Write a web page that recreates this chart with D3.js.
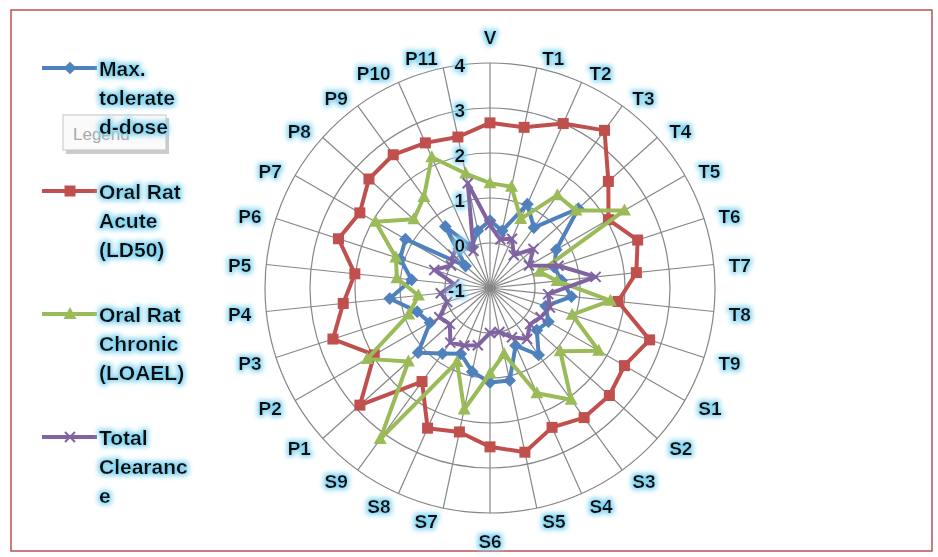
<!DOCTYPE html>
<html>
<head>
<meta charset="utf-8">
<script src="https://cdn.jsdelivr.net/npm/d3@7"></script>
<style>
	body { margin: 0; background: #fff; }
	svg { display: block; font-family: "Liberation Sans", Arial, sans-serif; font-weight: bold; }
</style>
</head>
<body>
<svg id="chart" width="938" height="557"></svg>
<script>
// Categories around the radar, clockwise from the top
const categories = ["V", "T1", "T2", "T3", "T4", "T5", "T6", "T7", "T8", "T9",
	"S1", "S2", "S3", "S4", "S5", "S6", "S7", "S8", "S9",
	"P1", "P2", "P3", "P4", "P5", "P6", "P7", "P8", "P9", "P10", "P11"];

const maxToleratedDose = [0.5, 0.3, 1.04, 0.66, 1.64, 0.7, 0.5, 0.6, 0.82, 0.3,
	0.5, 0.4, 0.84, 0.4, 1.1, 1.1, 0.9, 0.6, 0.8,
	1.15, 0.54, 0.7, 1.24, 0.75, 1.1, 1.17, -0.27, 0.69, 0.0, 0.3];
const oralRatAcute = [2.67, 2.65, 3.0, 3.33, 2.54, 2.04, 2.45, 2.27, 1.86, 2.73,
	2.45, 2.57, 2.56, 2.39, 2.73, 2.53, 2.27, 2.41, 1.57,
	2.89, 1.97, 2.67, 2.28, 2.02, 2.54, 2.34, 2.62, 2.66, 2.53, 2.43];
const oralRatChronic = [1.33, 1.3, 0.68, 1.55, 1.57, 2.45, 0.16, 0.5, 1.69, 0.92,
	1.79, 1.1, 2.07, 1.56, 0.5, 0.9, 1.76, 0.8, 3.15,
	1.44, 2.15, 0.9, 0.6, 1.08, 1.2, 1.94, 1.28, 1.5, 2.18, 1.6];
const totalClearance = [0.4, 0.1, 0.2, -0.1, 0.3, 0.0, 0.6, 1.36, 0.3, 0.4,
	0.3, 0.2, 0.4, 0.2, 0.0, 0.0, 0.3, 0.4, 0.5,
	0.2, 0.3, 0.0, 0.1, -0.2, 0.3, 0.0, 0.1, 0.2, -0.1, 1.38];

const radialTicks = [-1, 0, 1, 2, 3, 4];

const seriesNames = ["Max. tolerated dose", "Oral Rat Acute (LD50)", "Oral Rat Chronic (LOAEL)", "Total Clearance"];
// legend text as it wraps in the picture
const legendLines = [
	["Max.", "tolerate", "d-dose"],
	["Oral Rat", "Acute", "(LD50)"],
	["Oral Rat", "Chronic", "(LOAEL)"],
	["Total", "Clearanc", "e"],
];

const series = [
	{ name: seriesNames[0], values: maxToleratedDose, color: "#4f81bd", marker: "diamond" },
	{ name: seriesNames[1], values: oralRatAcute, color: "#c0504d", marker: "square" },
	{ name: seriesNames[2], values: oralRatChronic, color: "#9bbb59", marker: "triangle" },
	{ name: seriesNames[3], values: totalClearance, color: "#8064a2", marker: "x" },
];

const svg = d3.select("#chart");
const cx = 490, cy = 288, outer = 225;

// glow behind the texts
const filter = svg.append("defs").append("filter")
	.attr("id", "glow").attr("x", "-40%").attr("y", "-40%")
	.attr("width", "180%").attr("height", "180%");
filter.append("feMorphology").attr("in", "SourceAlpha")
	.attr("operator", "dilate").attr("radius", 2).attr("result", "d");
filter.append("feGaussianBlur").attr("in", "d").attr("stdDeviation", 2.8).attr("result", "b");
filter.append("feFlood").attr("flood-color", "#86d6f2").attr("flood-opacity", 1);
filter.append("feComposite").attr("in2", "b").attr("operator", "in").attr("result", "g");
const merge = filter.append("feMerge");
merge.append("feMergeNode").attr("in", "g");
merge.append("feMergeNode").attr("in", "SourceGraphic");

// chart border
svg.append("rect")
	.attr("x", 11).attr("y", 10).attr("width", 921).attr("height", 541)
	.attr("fill", "#fff").attr("stroke", "#b9524f").attr("stroke-width", 1.5);

// Scales
const angle = d3.scaleLinear().domain([0, categories.length]).range([0, 2 * Math.PI]);
const r = d3.scaleLinear().domain([-1, 4]).range([0, outer]);

const g = svg.append("g").attr("transform", `translate(${cx},${cy})`);

// Grid circles
g.append("g").selectAll("circle")
	.data(radialTicks.slice(1))
	.join("circle")
	.attr("r", (d) => r(d))
	.attr("fill", "none")
	.attr("stroke", "#868686")
	.attr("stroke-width", 1.2);

// Spokes
g.append("g").selectAll("line")
	.data(categories)
	.join("line")
	.attr("x2", (d, i) => d3.pointRadial(angle(i), outer)[0])
	.attr("y2", (d, i) => d3.pointRadial(angle(i), outer)[1])
	.attr("stroke", "#868686")
	.attr("stroke-width", 1.2);

// Category labels: anchored at a point just outside the ring, Excel style
g.append("g").attr("filter", "url(#glow)")
	.selectAll("text")
	.data(categories)
	.join("text")
	.text((d) => d)
	.attr("font-size", 19)
	.attr("fill", "#0a0a0a")
	.attr("dominant-baseline", "central")
	.each(function (d, i) {
		const a = angle(i);
		const s = Math.sin(a), c = Math.cos(a);
		const [px, py] = d3.pointRadial(a, 237);
		const side = Math.abs(s) < 0.01 ? 0 : Math.sign(s);
		let y = py + 2;
		if (side === 0) y = c > 0 ? py - 14 : py + 16;
		d3.select(this)
			.attr("text-anchor", side === 0 ? "middle" : side > 0 ? "start" : "end")
			.attr("x", px + side * 3)
			.attr("y", y);
	});

const lineGen = d3.lineRadial()
	.angle((d, i) => angle(i))
	.radius((d) => r(d))
	.curve(d3.curveLinearClosed);

function drawMarker(sel, type, color) {
	if (type === "square") {
		sel.append("rect").attr("x", -5.5).attr("y", -5.5).attr("width", 11).attr("height", 11).attr("fill", color);
	} else if (type === "diamond") {
		sel.append("rect").attr("x", -4.5).attr("y", -4.5).attr("width", 9).attr("height", 9)
			.attr("transform", "rotate(45)").attr("fill", color);
	} else if (type === "triangle") {
		sel.append("path").attr("d", "M0,-7L6.5,5L-6.5,5Z").attr("fill", color);
	} else {
		sel.append("path").attr("d", "M-5,-5L5,5M-5,5L5,-5").attr("stroke", color).attr("stroke-width", 2);
	}
}

// Series
for (const s of series) {
	const sg = g.append("g");
	sg.append("path")
		.datum(s.values)
		.attr("d", lineGen)
		.attr("fill", "none")
		.attr("stroke", s.color)
		.attr("stroke-width", 4)
		.attr("stroke-linejoin", "round");
	sg.selectAll("g.m")
		.data(s.values)
		.join("g")
		.attr("class", "m")
		.attr("transform", (d, i) => `translate(${d3.pointRadial(angle(i), r(d))})`)
		.each(function () { drawMarker(d3.select(this), s.marker, s.color); });
}

// Radial tick labels
g.append("g").attr("filter", "url(#glow)")
	.selectAll("text")
	.data(radialTicks)
	.join("text")
	.text((d) => d)
	.attr("x", -25)
	.attr("y", (d) => -r(d) + 2)
	.attr("text-anchor", "end")
	.attr("dominant-baseline", "central")
	.attr("font-size", 19)
	.attr("fill", "#0a0a0a");

// The "Legend" tooltip caught in the picture
svg.append("rect").attr("x", 66).attr("y", 118).attr("width", 103).attr("height", 36)
	.attr("fill", "#9a9a9a").attr("opacity", 0.5);
svg.append("rect").attr("x", 63).attr("y", 115).attr("width", 103).attr("height", 35)
	.attr("fill", "#fafafa").attr("stroke", "#c4c4c4");
svg.append("text").attr("x", 73).attr("y", 140).text("Legend")
	.attr("font-size", 17).attr("font-weight", "normal").attr("fill", "#a8a8a8");

// Legend
const legend = svg.append("g");
series.forEach((s, i) => {
	const y0 = 68 + i * 123;
	const item = legend.append("g").attr("transform", `translate(0,${y0})`);
	item.append("line").attr("x1", 42).attr("x2", 97).attr("stroke", s.color).attr("stroke-width", 4);
	drawMarker(item.append("g").attr("transform", "translate(70,0)"), s.marker, s.color);
	item.append("g").attr("filter", "url(#glow)")
		.selectAll("text")
		.data(legendLines[i])
		.join("text")
		.attr("x", 99)
		.attr("y", (d, j) => j * 29)
		.attr("dominant-baseline", "central")
		.attr("font-size", 21)
		.attr("fill", "#0a0a0a")
		.text((d) => d);
});
</script>
</body>
</html>
